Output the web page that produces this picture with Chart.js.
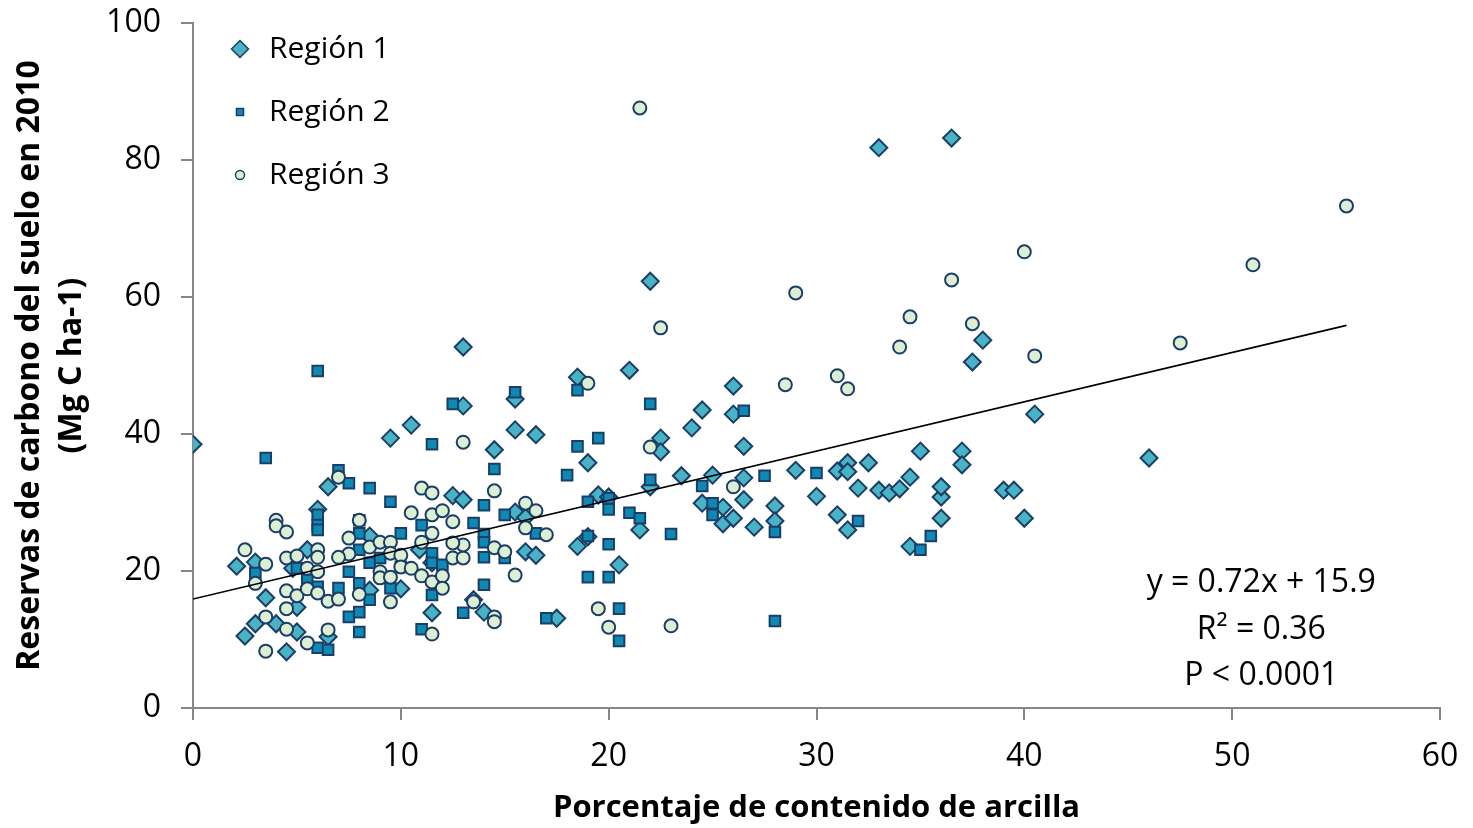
<!DOCTYPE html>
<html lang="es">
<head>
<meta charset="utf-8">
<title>Reservas de carbono del suelo vs. arcilla</title>
<script src="https://cdn.jsdelivr.net/npm/chart.js@4.4.1/dist/chart.umd.min.js"></script>
<style>
    html, body { margin: 0; padding: 0; background: #fff; }
    #wrap { width: 1473px; height: 828px; }
</style>
</head>
<body>
<div id="wrap"><canvas id="clayChart" width="1473" height="828"></canvas></div>
<script>
// [% arcilla, Mg C ha-1] per region
const region1 = [
    [0, 38.5], [2.1, 20.7], [2.5, 10.5], [3.0, 21.3], [3.0, 12.3], [3.5, 16.1], [4.0, 12.3], [4.5, 8.2],
    [5.0, 11.1], [5.0, 14.7], [4.8, 20.4], [5.5, 23.1], [6.0, 29.0], [6.5, 32.3], [6.5, 10.4], [8.5, 25.1],
    [8.5, 17.2], [9.5, 39.4], [10.0, 17.4], [10.5, 41.3], [10.9, 23.1], [11.5, 21.2], [11.5, 13.9], [12.5, 31.0],
    [13.0, 30.4], [13.0, 44.1], [13.0, 52.7], [13.5, 15.8], [14.0, 14.0], [14.5, 37.7], [15.5, 40.6], [15.5, 45.1],
    [15.5, 28.6], [16.0, 27.8], [16.0, 22.8], [16.5, 22.3], [16.5, 39.9], [17.5, 13.1], [18.5, 48.3], [18.5, 23.6],
    [19.0, 25.0], [19.0, 35.8], [19.5, 31.1], [20.0, 30.8], [20.5, 20.9], [21.0, 49.3], [21.5, 26.0], [22.0, 62.3],
    [22.0, 32.3], [22.5, 39.4], [22.5, 37.4], [23.5, 33.9], [24.0, 40.9], [24.5, 43.5], [24.5, 29.9], [25.0, 34.0],
    [25.5, 29.3], [25.5, 26.9], [26.0, 47.0], [26.0, 42.9], [26.0, 27.7], [26.5, 38.2], [26.5, 33.6], [26.5, 30.4],
    [27.0, 26.4], [28.0, 29.5], [28.0, 27.3], [29.0, 34.7], [30.0, 30.9], [31.0, 34.6], [31.0, 28.2], [31.5, 26.0],
    [31.5, 35.8], [31.5, 34.5], [32.0, 32.1], [32.5, 35.8], [33.0, 81.8], [33.0, 31.8], [33.5, 31.4], [34.0, 32.0],
    [34.5, 33.7], [34.5, 23.6], [35.0, 37.5], [36.0, 27.7], [36.0, 30.8], [36.0, 32.3], [36.5, 83.2], [37.0, 37.5],
    [37.0, 35.5], [37.5, 50.5], [38.0, 53.7], [39.0, 31.8], [39.5, 31.8], [40.0, 27.7], [40.5, 42.9], [46.0, 36.5]
];

const region2 = [
    [3.0, 19.7], [3.5, 36.5], [5.0, 20.4], [5.5, 18.7], [6.0, 17.7], [6.0, 8.8], [6.5, 8.5], [6.0, 49.2],
    [6.0, 28.2], [6.0, 26.7], [6.0, 26.0], [7.0, 34.7], [7.0, 17.5], [7.5, 32.8], [7.5, 19.9], [7.5, 13.3],
    [8.0, 27.4], [8.0, 25.5], [8.0, 23.1], [8.0, 18.2], [8.0, 14.0], [8.0, 11.1], [8.5, 32.1], [8.5, 21.2],
    [8.5, 15.8], [9.0, 21.9], [9.5, 30.1], [9.5, 17.5], [10.0, 25.5], [10.0, 20.6], [11.0, 26.7], [11.0, 11.5],
    [11.5, 38.5], [11.5, 22.6], [11.5, 21.2], [11.5, 16.5], [12.0, 20.9], [12.5, 44.4], [13.0, 13.9], [13.5, 27.0],
    [14.0, 29.6], [14.0, 25.4], [14.0, 24.2], [14.0, 22.0], [14.0, 18.0], [14.5, 34.9], [15.0, 28.2], [15.0, 21.9],
    [15.5, 46.1], [16.5, 25.5], [17.0, 13.1], [18.0, 34.0], [18.5, 46.4], [18.5, 38.2], [19.0, 30.1], [19.0, 25.1],
    [19.0, 19.1], [19.5, 39.4], [20.0, 30.6], [20.0, 29.0], [20.0, 23.9], [20.0, 19.1], [20.5, 14.5], [20.5, 9.8],
    [21.0, 28.5], [21.5, 27.7], [22.0, 44.4], [22.0, 33.3], [23.0, 25.4], [24.5, 32.4], [25.0, 29.9], [25.0, 28.2],
    [26.5, 43.4], [27.5, 33.9], [28.0, 25.7], [28.0, 12.7], [30.0, 34.3], [32.0, 27.3], [35.0, 23.1], [35.5, 25.1]
];

const region3 = [
    [21.5, 87.6], [55.5, 73.3], [40.0, 66.6], [51.0, 64.7], [36.5, 62.5], [29.0, 60.6], [37.5, 56.1], [34.5, 57.1],
    [22.5, 55.5], [34.0, 52.7], [47.5, 53.3], [40.5, 51.4], [31.0, 48.5], [31.5, 46.6], [28.5, 47.2], [19.0, 47.4],
    [22.0, 38.1], [13.0, 38.8], [26.0, 32.3], [14.5, 31.7], [16.0, 29.9], [16.5, 28.8], [16.0, 26.3], [17.0, 25.3],
    [14.5, 23.4], [15.0, 22.8], [15.5, 19.4], [13.5, 15.5], [14.5, 13.3], [14.5, 12.6], [19.5, 14.5], [20.0, 11.8],
    [23.0, 12.0], [11.0, 32.1], [11.5, 31.4], [10.5, 28.5], [11.5, 28.2], [12.0, 28.8], [12.5, 27.2], [8.0, 27.4],
    [7.5, 24.8], [7.5, 22.5], [8.5, 23.5], [9.0, 24.2], [9.5, 24.2], [9.5, 22.6], [10.0, 22.3], [10.0, 20.6],
    [9.0, 19.9], [9.0, 19.0], [9.5, 19.1], [10.5, 20.4], [11.0, 19.3], [11.5, 18.4], [12.0, 19.3], [12.0, 17.5],
    [11.0, 24.2], [11.5, 25.5], [12.5, 21.9], [13.0, 21.9], [13.0, 23.8], [12.5, 24.1], [8.0, 16.6], [9.5, 15.5],
    [11.5, 10.8], [7.0, 33.7], [4.0, 27.4], [4.0, 26.6], [4.5, 25.7], [2.5, 23.1], [3.5, 21.0], [4.5, 21.9],
    [5.0, 22.2], [6.0, 23.1], [6.0, 22.0], [7.0, 22.0], [5.5, 20.4], [6.0, 19.9], [3.0, 18.2], [4.5, 17.1],
    [5.0, 16.4], [5.5, 17.4], [6.0, 16.8], [6.5, 15.6], [7.0, 15.9], [4.5, 14.5], [3.5, 13.3], [4.5, 11.5],
    [5.5, 9.5], [6.5, 11.4], [3.5, 8.3]
];

const seriesLabels = ['Región 1', 'Región 2', 'Región 3'];

// regression reported on the chart
const slope = 0.72;
const intercept = 15.9;
const rSquared = 0.36;
const pText = 'P < 0.0001';

const xTicks = [0, 10, 20, 30, 40, 50, 60];
const yTicks = [0, 20, 40, 60, 80, 100];

const axisGray = '#868686';
const edge = '#1b3e68';
const fontFamily = '"Open Sans", sans-serif';

const toPoints = pairs => pairs.map(([x, y]) => ({ x, y }));

const allX = region1.concat(region2, region3).map(p => p[0]);
const xFitMax = Math.max(...allX);
const trendData = [
    { x: 0, y: intercept },
    { x: xFitMax, y: slope * xFitMax + intercept }
];

// legend drawn in the top-left corner of the plot, one entry per row
const regionLegend = {
    id: 'regionLegend',
    afterDraw(chart) {
        const { ctx, chartArea } = chart;
        const sizes = [8.5, 5, 4.5];
        ctx.save();
        seriesLabels.forEach((label, i) => {
            const ds = chart.data.datasets[i];
            const y = chartArea.top + 26 + i * 63;
            const x = chartArea.left + 47;
            ctx.fillStyle = ds.backgroundColor;
            ctx.strokeStyle = ds.borderColor;
            ctx.lineWidth = 1.5;
            Chart.helpers.drawPoint(ctx, {
                pointStyle: ds.pointStyle, radius: sizes[i], borderWidth: 1.5, rotation: 0
            }, x, y);
            ctx.fillStyle = '#000';
            ctx.font = '30px ' + fontFamily;
            ctx.textAlign = 'left';
            ctx.textBaseline = 'middle';
            ctx.fillText(label, x + 29, y);
        });
        ctx.restore();
    }
};

// equation, R² and P value in the lower right of the plot
const fitLabel = {
    id: 'fitLabel',
    afterDraw(chart) {
        const { ctx } = chart;
        const xs = chart.scales.x;
        const cx = xs.getPixelForValue(51.4);
        const lines = [
            'y = ' + slope.toFixed(2) + 'x + ' + intercept.toFixed(1),
            'R² = ' + rSquared.toFixed(2),
            pText
        ];
        ctx.save();
        ctx.fillStyle = '#000';
        ctx.font = '32px ' + fontFamily;
        ctx.textAlign = 'center';
        ctx.textBaseline = 'middle';
        lines.forEach((t, i) => ctx.fillText(t, cx, 583 + i * 46.5));
        ctx.restore();
    }
};

function buildChart() {
    const ctx = document.getElementById('clayChart').getContext('2d');
    Chart.defaults.font.family = fontFamily;
    Chart.defaults.color = '#000';

    new Chart(ctx, {
        type: 'scatter',
        data: {
            datasets: [{
                label: seriesLabels[0],
                data: toPoints(region1),
                pointStyle: 'rectRot',
                pointRadius: 8.5,
                backgroundColor: '#48b3c5',
                borderColor: edge,
                borderWidth: 2,
                order: 3
            }, {
                label: seriesLabels[1],
                data: toPoints(region2),
                pointStyle: 'rect',
                pointRadius: 7.5,
                backgroundColor: '#0d89b4',
                borderColor: edge,
                borderWidth: 2,
                order: 2
            }, {
                label: seriesLabels[2],
                data: toPoints(region3),
                pointStyle: 'circle',
                pointRadius: 6.5,
                backgroundColor: '#dcefd3',
                borderColor: edge,
                borderWidth: 2,
                order: 1
            }, {
                label: 'Tendencia',
                data: trendData,
                showLine: true,
                borderColor: '#000',
                borderWidth: 1.6,
                pointRadius: 0,
                fill: false,
                order: 0
            }]
        },
        options: {
            responsive: false,
            animation: false,
            events: [],
            layout: { padding: { top: 23, right: 33, bottom: 0, left: 0 } },
            plugins: {
                legend: { display: false },
                tooltip: { enabled: false }
            },
            scales: {
                x: {
                    type: 'linear',
                    min: 0,
                    max: 60,
                    afterBuildTicks: s => { s.ticks = xTicks.map(v => ({ value: v })); },
                    afterFit: s => { s.height = 120; s.paddingRight = 0; },
                    ticks: { font: { size: 32 }, color: '#000', padding: 18, maxRotation: 0 },
                    grid: { drawOnChartArea: false, drawTicks: true, tickLength: 12, color: axisGray, lineWidth: 2 },
                    border: { display: true, color: axisGray, width: 2 },
                    title: {
                        display: true,
                        text: 'Porcentaje de contenido de arcilla',
                        color: '#000',
                        font: { size: 31, weight: 'bold' },
                        padding: { top: 0, bottom: 1 }
                    }
                },
                y: {
                    type: 'linear',
                    min: 0,
                    max: 100,
                    afterBuildTicks: s => { s.ticks = yTicks.map(v => ({ value: v })); },
                    afterFit: s => { s.width = 193; s.paddingTop = 0; },
                    ticks: { font: { size: 32 }, color: '#000', padding: 20 },
                    grid: { drawOnChartArea: false, drawTicks: true, tickLength: 12, color: axisGray, lineWidth: 2 },
                    border: { display: true, color: axisGray, width: 2 },
                    title: {
                        display: true,
                        text: ['Reservas de carbono del suelo en 2010', '(Mg C ha-1)'],
                        color: '#000',
                        font: { size: 32, weight: 'bold', lineHeight: 1.31 },
                        padding: { top: 9, bottom: 0 }
                    }
                }
            }
        },
        plugins: [regionLegend, fitLabel]
    });
}

document.addEventListener('DOMContentLoaded', () => {
    document.fonts.load('28px "Open Sans"').then(buildChart, buildChart);
});
</script>
</body>
</html>
